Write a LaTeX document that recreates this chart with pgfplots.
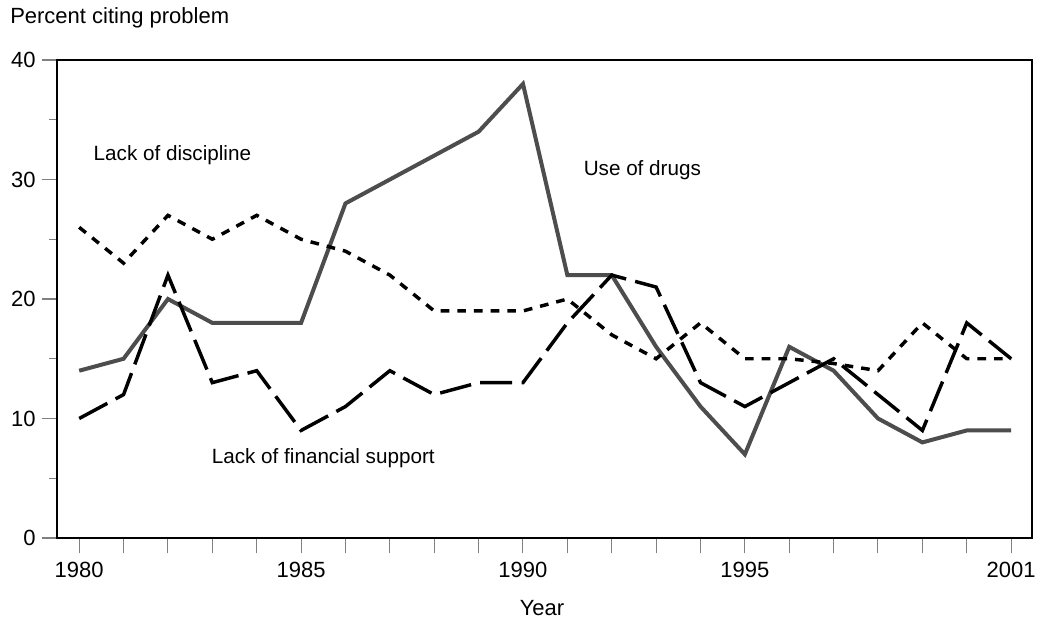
\documentclass[border=0pt]{standalone}
\usepackage{pgfplots}
\pgfplotsset{compat=1.18}
\usepackage{fontspec}
\setmainfont{Liberation Sans}
\definecolor{druggrey}{HTML}{4D4D4D}
\begin{document}
\begin{tikzpicture}
\begin{axis}[
  at={(0,0)}, anchor=south west,
  scale only axis, width=731.25pt, height=358.5pt,
  xmin=1979.5, xmax=2001.47, ymin=0, ymax=40,
  axis line style={line width=1.1pt, black},
  tick align=outside,
  xtick pos=left, ytick pos=left,
  xtick={1980,...,2001},
  xticklabels={1980,,,,,1985,,,,,1990,,,,,1995,,,,,,2001},
  ytick={0,10,20,30,40}, yticklabels={0,10,20,30,40},
  minor ytick={5,15,25,35},
  major tick length=11.5pt, minor tick length=6pt,
  tick style={gray, line width=0.8pt},
  tick label style={font=\fontsize{16.5}{19}\selectfont},
  xticklabel style={yshift=-3pt},
  yticklabel style={xshift=-1pt},
  clip=false,
]
% Use of drugs
\addplot[druggrey, line width=3pt, line join=miter] coordinates {
(1980,14) (1981,15) (1982,20) (1983,18) (1984,18) (1985,18) (1986,28) (1987,30)
(1988,32) (1989,34) (1990,38) (1991,22) (1992,22) (1993,16) (1994,11) (1995,7)
(1996,16) (1997,14) (1998,10) (1999,8) (2000,9) (2001,9)};
% Lack of discipline
\addplot[black, line width=2.6pt, dash pattern=on 6.5pt off 6pt] coordinates {
(1980,26) (1981,23) (1982,27) (1983,25) (1984,27) (1985,25) (1986,24) (1987,22)
(1988,19) (1989,19) (1990,19) (1991,20) (1992,17) (1993,15) (1994,18) (1995,15)
(1996,15) (1997,14.6) (1998,14) (1999,18) (2000,15) (2001,15)};
% Lack of financial support
\addplot[black, line width=2.6pt, dash pattern=on 24pt off 7pt] coordinates {
(1980,10) (1981,12) (1982,22) (1983,13) (1984,14) (1985,9) (1986,11) (1987,14)
(1988,12) (1989,13) (1990,13) (1991,18) (1992,22) (1993,21) (1994,13) (1995,11)
(1996,13) (1997,15) (1998,12) (1999,9) (2000,18) (2001,15)};
\node[font=\fontsize{15.5}{18}\selectfont] at (axis cs:1982.1,32.0) {Lack of discipline};
\node[font=\fontsize{15.5}{18}\selectfont] at (axis cs:1992.69,30.8) {Use of drugs};
\node[font=\fontsize{15.5}{18}\selectfont] at (axis cs:1985.5,6.7) {Lack of financial support};
\end{axis}
\node[anchor=west, inner sep=0pt, font=\fontsize{16.5}{19}\selectfont] at (-35.25pt,390pt) {Percent citing problem};
\node[font=\fontsize{16.5}{19}\selectfont] at (363.75pt,-52.5pt) {Year};
\pgfresetboundingbox
\useasboundingbox (-42.75pt,-63pt) rectangle (740.25pt,403.5pt);
\end{tikzpicture}
\end{document}
